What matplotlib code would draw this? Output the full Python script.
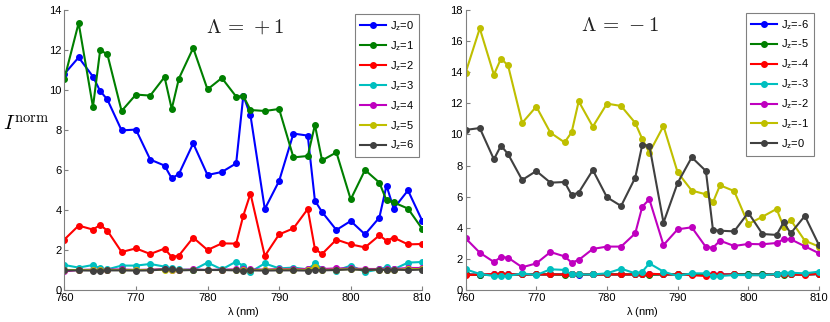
import matplotlib
matplotlib.use('Agg')
import matplotlib.pyplot as plt
from matplotlib.font_manager import FontProperties

# wavelengths (nm)
wl = [760, 762, 764, 765, 766, 768, 770, 772, 774, 775, 776, 778, 780, 782, 784,
      785, 786, 788, 790, 792, 794, 795, 796, 798, 800, 802, 804, 805, 806, 808, 810]

# Lambda = +1
p_jz0 = [10.8, 11.63, 10.67, 9.95, 9.53, 7.98, 8.02, 6.52, 6.22, 5.58, 5.8, 7.33, 5.75, 5.9, 6.33,
         9.72, 8.73, 4.05, 5.45, 7.82, 7.72, 4.47, 3.9, 3.0, 3.45, 2.78, 3.62, 5.22, 4.07, 4.98, 3.45]
p_jz1 = [10.55, 13.35, 9.15, 11.98, 11.8, 8.95, 9.77, 9.72, 10.65, 9.05, 10.57, 12.1, 10.03, 10.6, 9.67,
         9.7, 9.0, 8.95, 9.05, 6.63, 6.7, 8.25, 6.48, 6.88, 4.53, 6.0, 5.37, 4.48, 4.38, 4.07, 3.05]
p_jz2 = [2.52, 3.22, 3.02, 3.25, 2.97, 1.9, 2.08, 1.8, 2.07, 1.65, 1.72, 2.62, 2.0, 2.33, 2.32,
         3.72, 4.82, 1.7, 2.78, 3.08, 4.05, 2.05, 1.8, 2.52, 2.28, 2.13, 2.73, 2.47, 2.62, 2.28, 2.3]
p_jz3 = [1.25, 1.12, 1.25, 1.08, 1.03, 1.22, 1.22, 1.3, 1.17, 1.08, 1.03, 1.0, 1.37, 1.03, 1.42,
         1.2, 0.9, 1.33, 1.08, 1.12, 1.03, 1.33, 1.07, 0.97, 1.22, 0.9, 1.03, 1.15, 1.03, 1.37, 1.4]
p_jz4 = [0.93, 1.0, 1.02, 1.0, 1.02, 1.03, 1.0, 1.02, 1.05, 0.98, 1.0, 1.03, 1.0, 1.02, 1.03,
         1.05, 1.03, 1.02, 1.05, 1.05, 1.05, 1.1, 1.05, 1.08, 1.08, 1.05, 1.05, 1.05, 1.05, 1.1, 1.1]
p_jz5 = [1.0, 1.0, 1.0, 1.0, 1.0, 1.0, 1.0, 1.0, 1.02, 1.0, 1.0, 1.0, 1.0, 1.0, 1.0,
         1.0, 1.0, 1.0, 1.02, 1.02, 1.0, 1.15, 1.0, 1.02, 1.05, 1.0, 1.02, 1.0, 1.0, 1.05, 1.05]
p_jz6 = [0.98, 0.98, 0.97, 0.97, 0.98, 0.98, 0.97, 0.98, 1.03, 1.03, 0.98, 1.0, 1.0, 1.0, 0.98,
         0.97, 0.98, 0.97, 0.98, 0.98, 0.97, 1.0, 0.98, 1.0, 1.03, 1.0, 1.02, 1.0, 1.02, 1.0, 1.02]

# Lambda = -1
m_jzm6 = [1.0, 0.98, 1.0, 1.0, 1.0, 1.0, 1.0, 1.0, 1.0, 1.0, 0.98, 1.0, 1.0, 1.0, 1.0,
          1.0, 1.0, 1.0, 1.0, 1.0, 1.0, 1.0, 1.0, 1.0, 1.0, 1.0, 1.0, 1.0, 1.0, 1.0, 1.02]
m_jzm5 = [1.0, 0.97, 0.98, 1.0, 0.98, 1.0, 1.0, 1.0, 0.98, 1.0, 1.0, 1.0, 1.0, 1.0, 1.0,
          1.0, 0.98, 1.0, 1.0, 1.0, 1.0, 0.95, 0.95, 1.0, 1.0, 1.0, 1.0, 0.95, 1.0, 1.0, 1.02]
m_jzm4 = [0.95, 1.0, 1.02, 1.05, 1.02, 1.0, 1.0, 1.0, 1.0, 1.0, 1.0, 1.0, 1.0, 1.0, 1.0,
          1.0, 1.05, 1.0, 1.0, 0.95, 0.9, 1.0, 1.0, 1.0, 0.95, 0.97, 1.0, 1.0, 1.0, 0.97, 1.05]
m_jzm3 = [1.33, 1.03, 0.9, 0.9, 0.9, 1.07, 0.96, 1.33, 1.29, 1.0, 1.0, 1.0, 1.07, 1.37, 1.07,
          1.18, 1.71, 1.18, 0.9, 1.07, 1.07, 0.9, 0.9, 0.96, 0.96, 0.94, 1.03, 1.11, 1.11, 1.07, 1.18]
m_jzm2 = [3.32, 2.4, 1.8, 2.12, 2.08, 1.46, 1.71, 2.44, 2.16, 1.76, 1.93, 2.64, 2.79, 2.79, 3.64,
          5.36, 5.83, 2.89, 3.9, 4.03, 2.76, 2.72, 3.17, 2.83, 2.96, 2.94, 3.02, 3.26, 3.26, 2.81, 2.36]
m_jzm1 = [13.97, 16.82, 13.84, 14.87, 14.44, 10.74, 11.79, 10.11, 9.49, 10.14, 12.13, 10.5, 11.98, 11.83, 10.74,
          9.7, 8.83, 10.54, 7.56, 6.39, 6.15, 5.64, 6.73, 6.36, 4.24, 4.71, 5.21, 4.07, 4.5, 3.17, 2.79]
m_jz0 = [10.29, 10.41, 8.4, 9.28, 8.74, 7.07, 7.65, 6.9, 6.94, 6.11, 6.26, 7.71, 5.96, 5.4, 7.22,
         9.34, 9.28, 4.33, 6.88, 8.53, 7.65, 3.86, 3.81, 3.77, 4.97, 3.6, 3.54, 4.35, 3.64, 4.76, 2.89]

labels_p = ['0', '1', '2', '3', '4', '5', '6']
labels_m = ['-6', '-5', '-4', '-3', '-2', '-1', '0']
colors = ['#0000ff', '#007f00', '#ff0000', '#00bfbf', '#bf00bf', '#bfbf00', '#404040']

plt.rcParams['font.family'] = ['Liberation Sans', 'DejaVu Sans']
plt.rcParams['mathtext.fontset'] = 'custom'
plt.rcParams['mathtext.rm'] = 'Liberation Sans'
plt.rcParams['mathtext.it'] = 'Liberation Sans'


def style_axes(ax, ymax):
    ax.set_xlim(760, 810)
    ax.set_ylim(0, ymax)
    ax.set_xticks([760, 770, 780, 790, 800, 810])
    ax.set_yticks(range(0, ymax + 1, 2))
    for s in ['top', 'right']:
        ax.spines[s].set_visible(False)
    for s in ['left', 'bottom']:
        ax.spines[s].set_color('#808080')
        ax.spines[s].set_linewidth(0.8)
    ax.tick_params(direction='in', length=3, width=0.8, color='#808080',
                   labelsize=8, pad=2, labelcolor='black')
    ax.set_xlabel(r'$\lambda$ (nm)', fontsize=8, labelpad=1.5)


fig = plt.figure(figsize=(8.3, 3.22), dpi=100)
ax1 = fig.add_axes([0.0775, 0.0994, 0.4313, 0.8696])
ax2 = fig.add_axes([0.561, 0.0994, 0.4257, 0.8696])

leg_font = FontProperties(family='Liberation Sans', size=8)

series_p = [p_jz0, p_jz1, p_jz2, p_jz3, p_jz4, p_jz5, p_jz6]
for vals, lab, c in zip(series_p, labels_p, colors):
    ax1.plot(wl, vals, '-o', color=c, lw=1.5, ms=4, label=r'J$_{\rm z}$=' + lab)

series_m = [m_jzm6, m_jzm5, m_jzm4, m_jzm3, m_jzm2, m_jzm1, m_jz0]
for vals, lab, c in zip(series_m, labels_m, colors):
    ax2.plot(wl, vals, '-o', color=c, lw=1.5, ms=4, label=r'J$_{\rm z}$=' + lab)

style_axes(ax1, 14)
style_axes(ax2, 18)

for ax, anchor in [(ax1, (0.99, 0.985)), (ax2, (0.985, 0.99))]:
    leg = ax.legend(loc='upper right', bbox_to_anchor=anchor, borderaxespad=0,
                    prop=leg_font, fancybox=False, framealpha=1, edgecolor='#808080',
                    handlelength=2.4, handletextpad=0.3, labelspacing=0.55,
                    borderpad=0.45)
    leg.get_frame().set_linewidth(0.8)

cm_title = FontProperties(family='DejaVu Serif', size=15, math_fontfamily='cm')
ax1.text(0.505, 0.94, r'$\Lambda\,=\,+1$', transform=ax1.transAxes,
         ha='center', va='center', fontproperties=cm_title, color='#222222')
ax2.text(0.437, 0.946, r'$\Lambda\,=\,-1$', transform=ax2.transAxes,
         ha='center', va='center', fontproperties=cm_title, color='#222222')

cm_label = FontProperties(family='DejaVu Serif', size=15, math_fontfamily='cm')
fig.text(0.031, 0.615, r'$I^{\rm norm}$', ha='center', va='center',
         fontproperties=cm_label)

fig.savefig('out.png', dpi=100)
